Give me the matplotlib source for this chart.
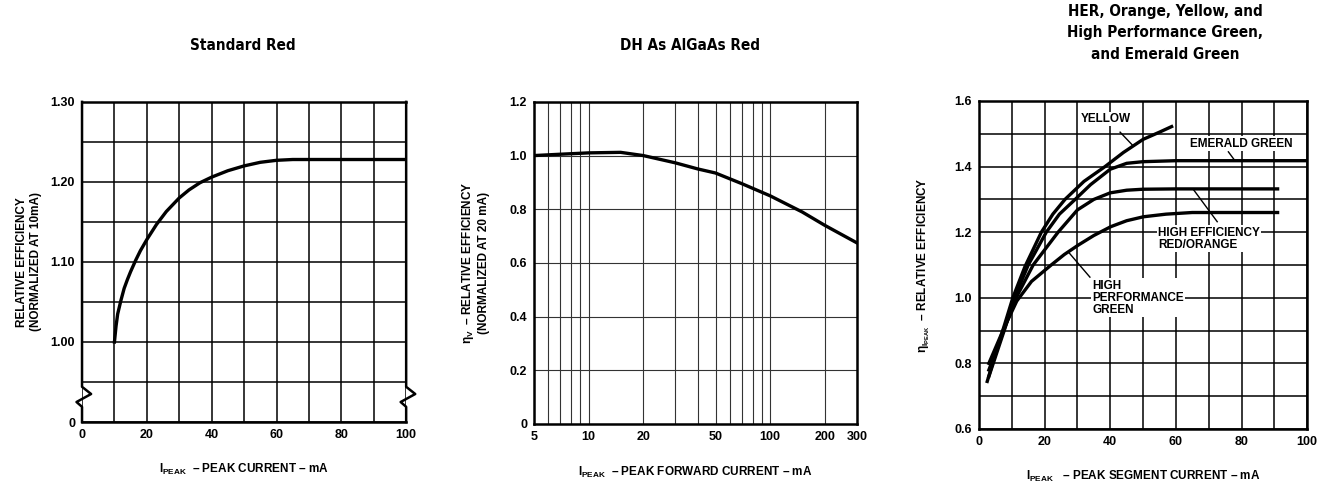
import matplotlib
matplotlib.use("Agg")
import matplotlib.pyplot as plt
from matplotlib.ticker import NullFormatter

plt.rcParams["font.family"] = ["Liberation Sans", "DejaVu Sans"]
plt.rcParams["font.weight"] = "bold"
plt.rcParams["mathtext.fontset"] = "custom"
plt.rcParams["mathtext.rm"] = "Liberation Sans:bold"
plt.rcParams["mathtext.bf"] = "Liberation Sans:bold"
plt.rcParams["mathtext.it"] = "Liberation Sans:bold"
plt.rcParams["mathtext.default"] = "regular"

# Standard Red
std_x = [10, 10.5, 11, 12, 13, 14, 15, 16.6, 18, 20, 23, 26, 30, 33, 36.4, 40, 45, 50, 55, 60, 65, 100]
std_y = [1.0, 1.02, 1.035, 1.052, 1.067, 1.078, 1.088, 1.1025, 1.114, 1.128, 1.147, 1.163, 1.18, 1.19,
         1.199, 1.206, 1.214, 1.22, 1.2245, 1.227, 1.228, 1.228]

# DH As AlGaAs Red
dh_x = [5, 7, 10, 15, 20, 30, 40, 50, 70, 100, 150, 200, 300]
dh_y = [1.0, 1.005, 1.01, 1.012, 1.0, 0.973, 0.95, 0.935, 0.895, 0.85, 0.79, 0.74, 0.675]

# HER / Orange / Yellow / HPG / Emerald
yel_x = [2.5, 4, 6, 8, 10.3, 14, 19, 22.5, 26.2, 32, 38.4, 44, 50, 55, 58.7]
yel_y = [0.745, 0.795, 0.86, 0.925, 1.0, 1.095, 1.2, 1.255, 1.3, 1.355, 1.4, 1.443, 1.483, 1.505, 1.522]
eme_x = [3, 4.5, 6, 8, 10.8, 15, 20.5, 24.5, 29.3, 34, 40, 45, 50, 60, 100]
eme_y = [0.76, 0.805, 0.85, 0.91, 1.0, 1.1, 1.2, 1.255, 1.3, 1.345, 1.392, 1.41, 1.415, 1.418, 1.418]
her_x = [3, 4.5, 6, 7.5, 11.3, 16.5, 24.1, 30, 35, 40, 45, 50, 60, 91]
her_y = [0.78, 0.82, 0.86, 0.9, 1.0, 1.1, 1.2, 1.268, 1.3, 1.32, 1.328, 1.331, 1.332, 1.332]
hpg_x = [3, 4.5, 6, 7.5, 11.5, 16, 22, 26, 30.3, 35, 40.2, 45, 50.1, 57, 65, 91]
hpg_y = [0.80, 0.835, 0.87, 0.905, 0.99, 1.05, 1.1, 1.132, 1.161, 1.19, 1.217, 1.235, 1.247, 1.255,
         1.26, 1.26]

TICK = 9
LAB = 8.5
CURVE_LW = 2.4
GRID_LW = 1.1

fig = plt.figure(figsize=(13.23, 4.91), dpi=100)

# ---- panel 1 ----
ax1 = fig.add_axes([0.062, 0.1405, 0.245, 0.652])
ax1.plot(std_x, std_y, color="black", lw=CURVE_LW)
ax1.set_xlim(0, 100)
ax1.set_ylim(0.90, 1.30)
ax1.set_xticks([0, 20, 40, 60, 80, 100])
ax1.set_xticks([10, 30, 50, 70, 90], minor=True)
ax1.set_yticks([0.90, 1.00, 1.10, 1.20, 1.30])
ax1.set_yticklabels(["0", "1.00", "1.10", "1.20", "1.30"])
ax1.set_yticks([0.95, 1.05, 1.15, 1.25], minor=True)
ax1.grid(which="both", color="black", lw=GRID_LW)
ax1.spines["left"].set_visible(False)
ax1.spines["right"].set_visible(False)
# broken axis marks
tr = ax1.get_yaxis_transform()
ax1.plot([0, 0, 0.028, -0.017, 0, 0], [1.30, 0.944, 0.935, 0.925, 0.919, 0.90],
         color="black", lw=1.8, transform=tr, clip_on=False)
ax1.plot([1, 1, 1.028, 0.983, 1, 1], [1.30, 0.944, 0.935, 0.925, 0.919, 0.90],
         color="black", lw=1.8, transform=tr, clip_on=False)
ax1.set_ylabel("RELATIVE EFFICIENCY\n(NORMALIZED AT 10mA)", fontsize=LAB, fontweight="bold",
               labelpad=6)
ax1.set_xlabel(r"$I_{PEAK}$  – PEAK CURRENT – mA", fontsize=LAB, fontweight="bold", labelpad=15)

# ---- panel 2 ----
ax2 = fig.add_axes([0.4036, 0.1365, 0.244, 0.656])
ax2.plot(dh_x, dh_y, color="black", lw=CURVE_LW)
ax2.set_xscale("log")
ax2.set_xlim(5, 300)
ax2.set_ylim(0, 1.2)
ax2.set_xticks([5, 10, 20, 50, 100, 200, 300])
ax2.set_xticklabels(["5", "10", "20", "50", "100", "200", "300"])
ax2.set_xticks([6, 7, 8, 9, 30, 40, 60, 70, 80, 90], minor=True)
ax2.xaxis.set_minor_formatter(NullFormatter())
ax2.set_yticks([0, 0.2, 0.4, 0.6, 0.8, 1.0, 1.2])
ax2.set_yticklabels(["0", "0.2", "0.4", "0.6", "0.8", "1.0", "1.2"])
ax2.grid(which="both", color="#333333", lw=0.8)
ax2.set_ylabel(r"$\eta_V$  – RELATIVE EFFICIENCY" + "\n(NORMALIZED AT 20 mA)", fontsize=LAB,
               fontweight="bold", labelpad=14)
ax2.set_xlabel(r"$I_{PEAK}$  – PEAK FORWARD CURRENT – mA", fontsize=LAB, fontweight="bold",
               labelpad=16)

# ---- panel 3 ----
ax3 = fig.add_axes([0.740, 0.1263, 0.248, 0.668])
for xs, ys in [(yel_x, yel_y), (eme_x, eme_y), (her_x, her_y), (hpg_x, hpg_y)]:
    ax3.plot(xs, ys, color="black", lw=CURVE_LW, solid_joinstyle="round")
ax3.set_xlim(0, 100)
ax3.set_ylim(0.6, 1.6)
ax3.set_xticks([0, 20, 40, 60, 80, 100])
ax3.set_xticks([10, 30, 50, 70, 90], minor=True)
ax3.set_yticks([0.6, 0.8, 1.0, 1.2, 1.4, 1.6])
ax3.set_yticklabels(["0.6", "0.8", "1.0", "1.2", "1.4", "1.6"])
ax3.set_yticks([0.7, 0.9, 1.1, 1.3, 1.5], minor=True)
ax3.grid(which="both", color="black", lw=GRID_LW)
ax3.set_ylabel(r"$\eta_{I_{PEAK}}$  – RELATIVE EFFICIENCY", fontsize=LAB, fontweight="bold",
               labelpad=16)
ax3.set_xlabel(r"$I_{PEAK}$   – PEAK SEGMENT CURRENT – mA", fontsize=LAB, fontweight="bold",
               labelpad=15)

box = dict(facecolor="white", edgecolor="none", pad=1.0)
ax3.text(38.5, 1.545, "YELLOW", fontsize=8.5, fontweight="bold", ha="center", va="center", bbox=box)
ax3.plot([43, 47], [1.505, 1.463], color="black", lw=1)
ax3.text(80, 1.47, "EMERALD GREEN", fontsize=8.5, fontweight="bold", ha="center", va="center",
         bbox=box)
ax3.plot([76, 78], [1.445, 1.418], color="black", lw=1)
ax3.text(54.6, 1.18, "HIGH EFFICIENCY\nRED/ORANGE", fontsize=8.5, fontweight="bold", ha="left",
         va="center", linespacing=1.0, bbox=box)
ax3.plot([65.2, 72.6], [1.332, 1.232], color="black", lw=1)
ax3.text(34.5, 1.0, "HIGH\nPERFORMANCE\nGREEN", fontsize=8.5, fontweight="bold", ha="left",
         va="center", linespacing=1.0, bbox=box)
ax3.plot([27.2, 33.8], [1.14, 1.063], color="black", lw=1)

for ax in (ax1, ax2, ax3):
    ax.tick_params(which="both", length=0, labelsize=TICK, pad=5)
    for lab in ax.get_xticklabels() + ax.get_yticklabels():
        lab.set_fontweight("bold")
    for s in ax.spines.values():
        s.set_linewidth(1.8)
    ax.set_axisbelow(True)

tfont = dict(fontsize=11, fontweight="bold", fontstretch="condensed",
             family=["Liberation Sans Narrow", "DejaVu Sans"], ha="center", va="center")
fig.text(243 / 1323, 1 - 45 / 491, "Standard Red", **tfont)
fig.text(690 / 1323, 1 - 45 / 491, "DH As AlGaAs Red", **tfont)
fig.text(1165 / 1323, 1 - 33 / 491,
         "HER, Orange, Yellow, and\nHigh Performance Green,\nand Emerald Green",
         linespacing=1.55, **tfont)

fig.savefig("out.png", dpi=100)
